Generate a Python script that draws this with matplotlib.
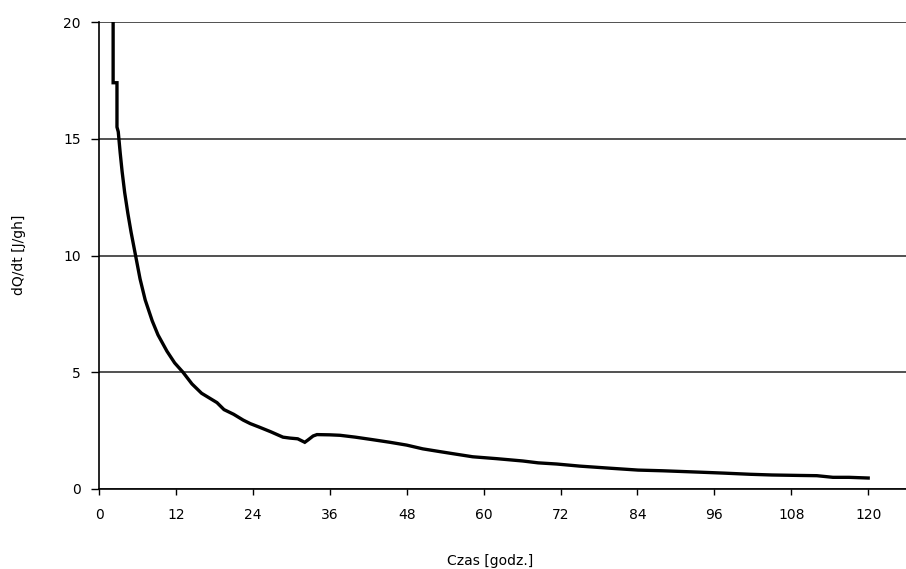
import matplotlib
matplotlib.use("Agg")
import matplotlib.pyplot as plt

# heat flow rate read over time (hours)
hours = [2.2, 2.2, 2.8, 2.8, 3.0, 3.3, 3.6, 4.0, 4.5, 5.0, 5.7, 6.4, 7.2, 8.3,
         9.2, 10.6, 11.8, 13.1, 14.5, 16.0, 17.2, 18.4, 19.5, 21.0, 22.5,
         23.6, 25.0, 26.8, 28.7, 29.8, 31.0, 32.1, 32.6, 33.4, 34.0, 36.0,
         37.6, 40.0, 42.5, 45.4, 48.0, 50.5, 53.2, 55.5, 58.3, 62.0, 66.1,
         68.5, 71.4, 75.0, 79.2, 84.1, 88.0, 93.8, 97.5, 101.6, 105.0, 109.4,
         112.0, 114.5, 117.0, 120.0]
dqdt = [22.0, 17.4, 17.4, 15.5, 15.3, 14.4, 13.6, 12.7, 11.8, 11.0, 10.0, 9.0,
        8.1, 7.2, 6.6, 5.9, 5.4, 5.0, 4.5, 4.1, 3.9, 3.7, 3.4, 3.2, 2.95,
        2.8, 2.65, 2.45, 2.22, 2.18, 2.15, 2.0, 2.1, 2.27, 2.33, 2.32, 2.3,
        2.22, 2.12, 2.0, 1.88, 1.72, 1.6, 1.5, 1.38, 1.3, 1.2, 1.12, 1.07,
        0.98, 0.9, 0.81, 0.78, 0.72, 0.68, 0.63, 0.6, 0.58, 0.57, 0.5, 0.5,
        0.47]

x_ticks = [0, 12, 24, 36, 48, 60, 72, 84, 96, 108, 120]
y_ticks = [0, 5, 10, 15, 20]

plt.rcParams["font.family"] = ["DejaVu Sans"]

fig = plt.figure(figsize=(9.06, 5.69), dpi=100)
ax = fig.add_axes([0.1093, 0.1406, 0.8907, 0.8207])

ax.plot(hours, dqdt, color="black", linewidth=2.4, solid_joinstyle="miter")

ax.set_xlim(0, 125.9)
ax.set_ylim(0, 20)
ax.set_xticks(x_ticks)
ax.set_yticks(y_ticks)
ax.tick_params(axis="x", direction="out", length=4, width=1, pad=10, labelsize=10)
ax.tick_params(axis="y", direction="out", length=6, width=1, pad=7, labelsize=10)

for side in ["top", "right"]:
    ax.spines[side].set_visible(False)
for side in ["left", "bottom"]:
    ax.spines[side].set_linewidth(1.2)

ax.yaxis.grid(True, color="#222222", linewidth=1.1)
ax.set_axisbelow(True)

fig.text(490 / 906, 1 - 561 / 569, "Czas [godz.]", ha="center", va="center", fontsize=10)
fig.text(19 / 906, 1 - 255 / 569, "dQ/dt [J/gh]", ha="center", va="center",
         rotation=90, fontsize=10)

fig.savefig("out.png", dpi=100)
